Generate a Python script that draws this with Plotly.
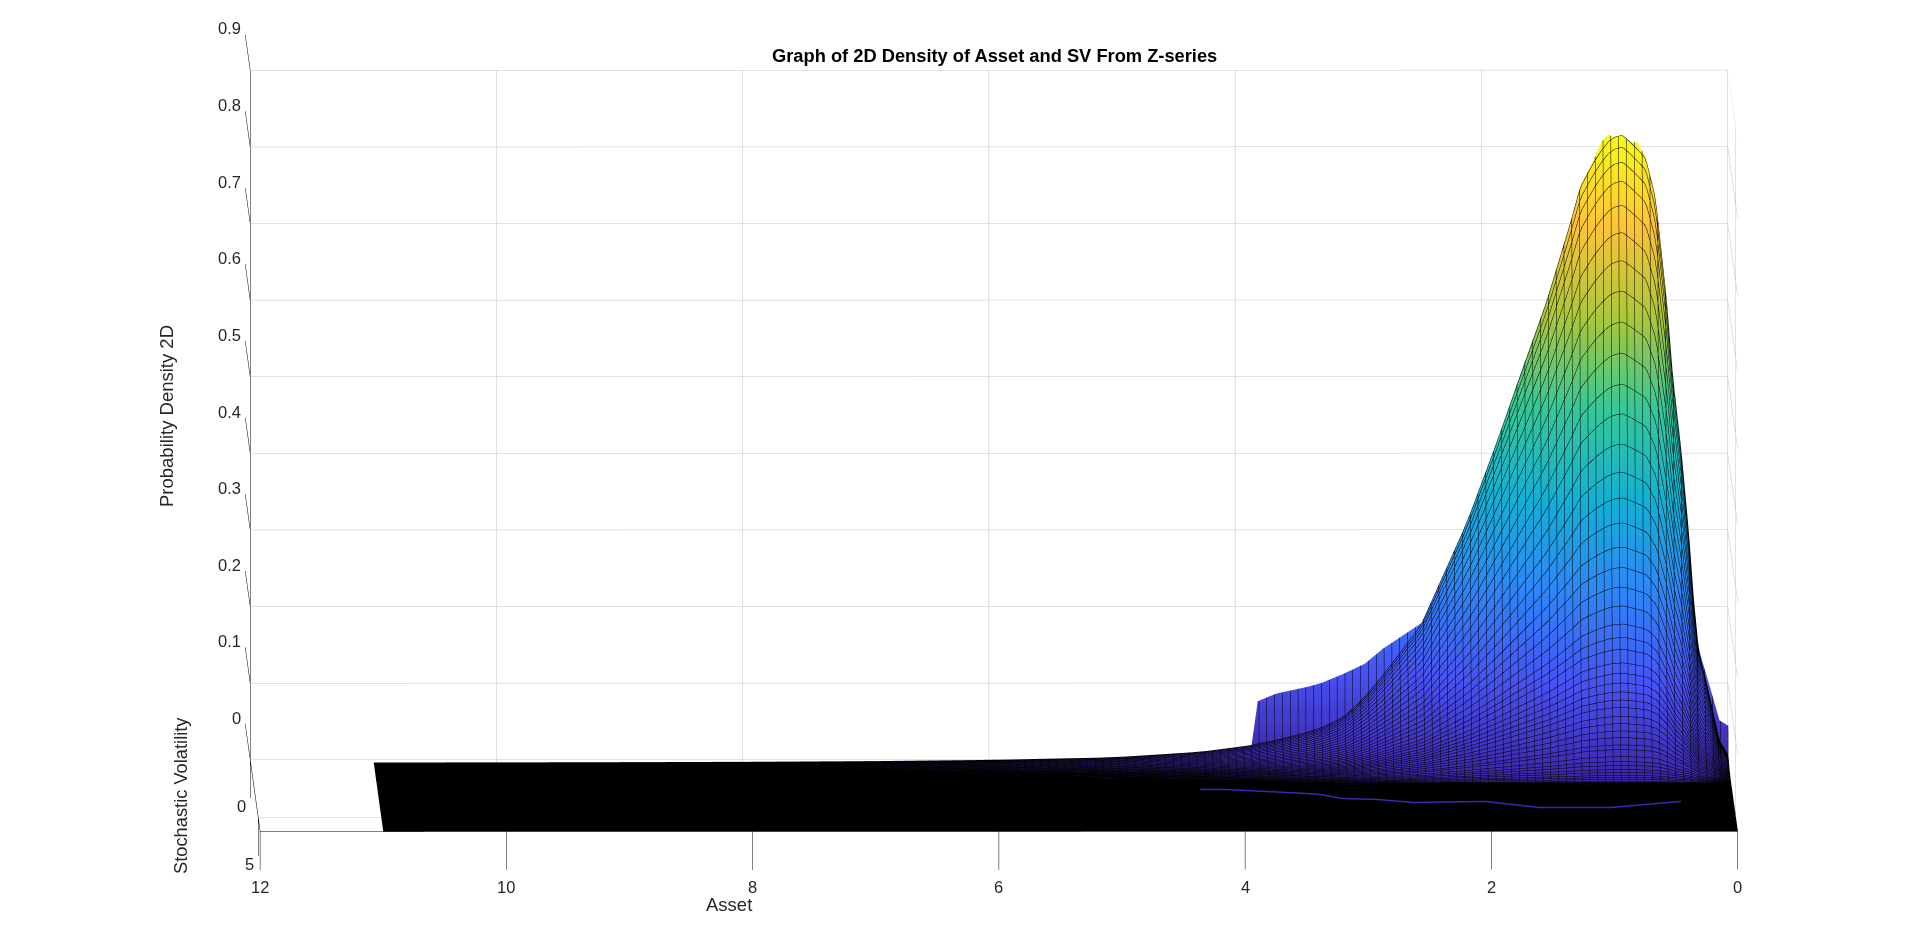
import plotly.graph_objects as go

# Asset positions of the cross-section
ASSET = [0.0, 0.07, 0.15, 0.24, 0.28, 0.32, 0.38, 0.45, 0.50, 0.59, 0.67, 0.74, 0.80, 0.86, 0.92, 0.97, 1.03,
         1.09, 1.20, 1.28, 1.48, 1.68, 1.89, 2.12, 2.40, 2.49, 2.80, 2.95, 3.12, 3.30, 3.41,
         3.67, 3.82, 3.89, 4.28, 5.0, 6.0, 7.0, 8.0, 9.0, 11.0]
# Relative density along Asset (main body of the surface)
SHAPE = [0.012, 0.035, 0.105, 0.18, 0.26, 0.366, 0.495, 0.616, 0.737, 0.90, 0.963, 0.978, 0.99, 1.0, 0.997, 0.99, 0.975,
         0.957, 0.917, 0.86, 0.73, 0.62, 0.504, 0.383, 0.26, 0.22, 0.14, 0.105, 0.073, 0.056, 0.049,
         0.036, 0.03, 0.027, 0.017, 0.008, 0.004, 0.002, 0.001, 0.0005, 0.0]
# Back-most row of the surface: density (skirt on the left, spike on the right)
BACK_ROW = [0.048, 0.055, 0.10, 0.149, 0.213, 0.30, 0.406, 0.505, 0.604, 0.737, 0.79, 0.81, 0.809, 0.808, 0.815, 0.82, 0.81,
            0.787, 0.752, 0.705, 0.60, 0.51, 0.413, 0.314, 0.214, 0.182, 0.149, 0.129, 0.116, 0.104, 0.099,
            0.09, 0.08, 0.0, 0.0, 0.0, 0.0, 0.0, 0.0, 0.0, 0.0]
# Stochastic volatility positions and ridge height of each row
SV = [0.25, 0.26, 0.30, 0.34, 0.38, 0.42, 0.46, 0.50, 0.54, 0.58, 0.62, 0.66, 0.70, 0.74, 0.78, 0.82,
      0.86, 0.90, 0.94, 0.98, 1.02, 1.06, 1.10, 1.14, 1.18, 1.22, 1.26, 1.30, 1.34, 1.38, 1.42, 1.46,
      1.50, 1.54, 1.58, 1.62, 1.66, 1.70, 1.74, 1.78, 1.82, 1.86, 1.90, 1.94, 1.98, 2.02, 2.2, 2.6, 3.2, 4.0, 5.0, 6.2]
RIDGE = [0.82, 0.819, 0.804, 0.785, 0.761, 0.730, 0.695, 0.659, 0.620, 0.580, 0.540, 0.500, 0.462, 0.423, 0.387, 0.354,
         0.322, 0.291, 0.265, 0.240, 0.216, 0.193, 0.176, 0.161, 0.144, 0.131, 0.119, 0.108, 0.098, 0.089, 0.078, 0.069,
         0.060, 0.052, 0.043, 0.0375, 0.029, 0.023, 0.0185, 0.0138, 0.0106, 0.0073, 0.0052, 0.0033, 0.0012, 0.0008,
         0.0005, 0.0003, 0.0001, 0.0, 0.0, 0.0]
# Thin purple streak that shows through the black mesh near the floor
STREAK_ASSET = [0.43, 0.72, 1.0, 1.59, 1.88, 2.02, 2.6, 2.89, 3.18, 3.35, 3.46, 4.12, 4.32]
STREAK_SV = [3.88, 4.14, 4.40, 4.40, 4.05, 3.88, 3.97, 3.71, 3.62, 3.28, 3.19, 2.84, 2.84]
STREAK_Z = [0.004] * len(STREAK_ASSET)

X_TICKS = [0, 2, 4, 6, 8, 10, 12]
Y_TICKS = [0, 5]
Z_TICKS = [0, 0.1, 0.2, 0.3, 0.4, 0.5, 0.6, 0.7, 0.8, 0.9]
Z_TICK_TEXT = ["0", "0.1", "0.2", "0.3", "0.4", "0.5", "0.6", "0.7", "0.8", "0.9"]
X_MAX, Y_MAX, Z_MAX = 12, 6.2, 0.9
TICK_Y, TICK_Z = -3.1, -0.05

PARULA = [[0.0, "rgb(62,38,168)"], [0.143, "rgb(72,82,244)"], [0.286, "rgb(46,135,247)"],
          [0.429, "rgb(18,177,214)"], [0.571, "rgb(55,200,151)"], [0.714, "rgb(171,199,57)"],
          [0.857, "rgb(254,195,56)"], [1.0, "rgb(249,251,21)"]]

Z = [BACK_ROW] + [[RIDGE[i] * s for s in SHAPE] for i in range(1, len(SV))]

fig = go.Figure()
fig.add_surface(x=ASSET, y=SV, z=Z, colorscale=PARULA, cmin=0, cmax=0.82, showscale=False,
                hoverinfo="skip",
                lighting=dict(ambient=1, diffuse=0, specular=0, fresnel=0, roughness=1),
                contours=dict(
                    x=dict(show=True, start=0, end=11.0, size=0.0635, color="#000000", width=3, highlight=False),
                    y=dict(show=True, start=0.26, end=6.2, size=0.04, color="#000000", width=3, highlight=False),
                    z=dict(show=False, highlight=False)))
fig.add_scatter3d(x=STREAK_ASSET, y=STREAK_SV, z=STREAK_Z, mode="lines",
                  line=dict(color="#3a28b0", width=3), hoverinfo="skip", showlegend=False)


def segs(pairs):
    xs, ys, zs = [], [], []
    for a, b in pairs:
        xs += [a[0], b[0], None]
        ys += [a[1], b[1], None]
        zs += [a[2], b[2], None]
    return xs, ys, zs


grid = []
for v in X_TICKS:
    grid.append(((v, 0, 0), (v, 0, Z_MAX)))
    grid.append(((v, 0, 0), (v, Y_MAX, 0)))
for v in Z_TICKS:
    grid.append(((0, 0, v), (X_MAX, 0, v)))
    grid.append(((0, 0, v), (0, Y_MAX, v)))
for v in Y_TICKS:
    grid.append(((0, v, 0), (X_MAX, v, 0)))
    grid.append(((0, v, 0), (0, v, Z_MAX)))
gx, gy, gz = segs(grid)
fig.add_scatter3d(x=gx, y=gy, z=gz, mode="lines", line=dict(color="#c4c4c4", width=1), hoverinfo="skip", showlegend=False)

dark = [((X_MAX, 0, 0), (X_MAX, 0, Z_MAX)), ((X_MAX, 0, 0), (X_MAX, Y_MAX, 0)), ((X_MAX, Y_MAX, 0), (0, Y_MAX, 0))]
for v in X_TICKS:
    dark.append(((v, Y_MAX, 0), (v, Y_MAX, TICK_Z)))
for v in Y_TICKS:
    dark.append(((X_MAX, v, 0), (X_MAX, v, TICK_Z)))
for v in Z_TICKS:
    dark.append(((X_MAX, 0, v), (X_MAX, TICK_Y, v)))
dx, dy, dz = segs(dark)
fig.add_scatter3d(x=dx, y=dy, z=dz, mode="lines", line=dict(color="#000000", width=1), hoverinfo="skip", showlegend=False)

font = dict(family="Liberation Sans, Arial, sans-serif", size=16.5, color="#262626")
ann = []
for v in X_TICKS:
    ann.append(dict(x=v, y=Y_MAX, z=TICK_Z, text=str(v), showarrow=False, font=font, yshift=-17))
for v in Y_TICKS:
    ann.append(dict(x=X_MAX, y=v, z=TICK_Z, text=str(v), showarrow=False, font=font, xanchor="right", xshift=-2, yshift=-8))
for v, t in zip(Z_TICKS, Z_TICK_TEXT):
    ann.append(dict(x=X_MAX, y=TICK_Y, z=v, text=t, showarrow=False, font=font, xanchor="right", xshift=-2, yshift=6))

CX, CZ = 0.067, -0.0353
hidden = dict(visible=False, showgrid=False, zeroline=False, showspikes=False)


def label(text, px, py, size, color="#262626", angle=0):
    return dict(text=text, x=px / 1920, y=1 - py / 936, xref="paper", yref="paper", showarrow=False,
                xanchor="center", yanchor="middle", textangle=angle,
                font=dict(family=font["family"], size=size, color=color))


fig.update_layout(
    width=1920, height=936, autosize=False,
    margin=dict(l=0, r=0, t=0, b=0), paper_bgcolor="white", showlegend=False,
    scene=dict(
        domain=dict(x=[0, 1], y=[0, 1]),
        xaxis=dict(range=[0, X_MAX], **hidden),
        yaxis=dict(range=[TICK_Y - 0.1, Y_MAX], **hidden),
        zaxis=dict(range=[TICK_Z, Z_MAX], **hidden),
        aspectmode="manual",
        aspectratio=dict(x=3.157, y=6.393, z=1.556),
        camera=dict(projection=dict(type="orthographic"),
                    eye=dict(x=0.0303 + CX, y=6.0, z=0.2184 + CZ),
                    center=dict(x=CX, y=0, z=CZ), up=dict(x=0, y=0, z=1)),
        annotations=ann,
    ),
    annotations=[
        label("<b>Graph of 2D Density of Asset and SV From Z-series</b>", 994, 55, 18.3, "#000000"),
        label("Asset", 729, 904, 18.5),
        label("Stochastic Volatility", 180, 796, 18.3, angle=-90),
        label("Probability Density 2D", 166, 416, 18.5, angle=-90),
    ],
)
fig.write_html("out.html", post_script="document.body.style.margin='0';", config=dict(displayModeBar=False))
